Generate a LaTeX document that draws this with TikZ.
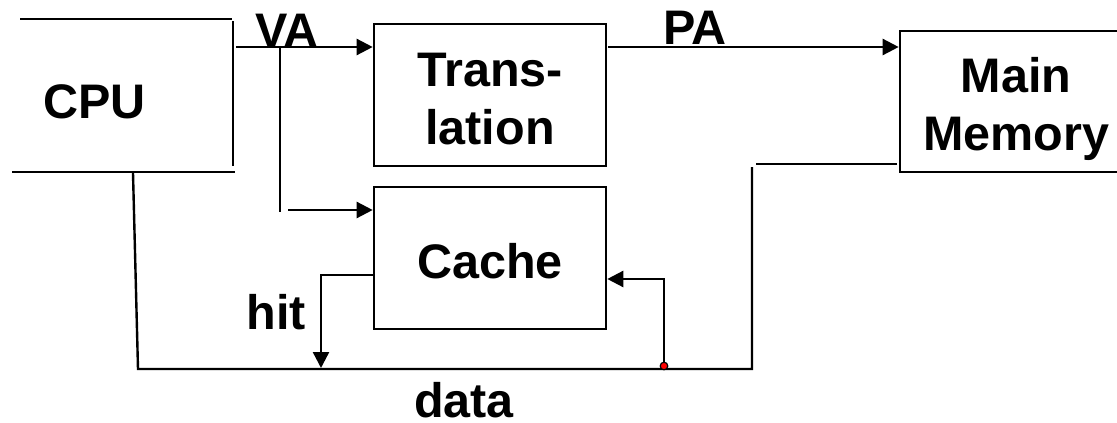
\documentclass[tikz,border=0pt]{standalone}
\usepackage{fontspec}
\setmainfont{Liberation Sans}
\usetikzlibrary{arrows.meta}
\begin{document}
\begin{tikzpicture}[x=1pt,y=-1pt,
  wire/.style={line width=2.4pt,line cap=butt},
  arr/.style={wire,-{Triangle[length=16pt,width=16pt]}},
  boxnode/.style={draw,line width=2.6pt,inner sep=0pt},
  lbl/.style={inner sep=0pt,font=\fontsize{48.5}{58}\selectfont\bfseries,align=center}]
\useasboundingbox (0,0) rectangle (1117,423);
\clip (0,0) rectangle (1117,423);
% boxes
\node[boxnode,minimum width=232pt,minimum height=142pt] (tr) at (490,95) {};
\node[boxnode,minimum width=232pt,minimum height=142pt] (ca) at (490,258) {};
\node[boxnode,minimum width=230pt,minimum height=141pt] (mm) at (1015,101.5) {};
% labels
\node[lbl,anchor=base] (cpu) at (94.5,118) {CPU};
\node[lbl] (trl) at (490,98.7) {Trans-\\lation};
\node[lbl] (mml) at (1016,108.8) {Main\\Memory};
\node[lbl,anchor=base] (cal) at (490,278) {Cache};
\node[lbl,anchor=base] (va) at (287,47) {VA};
\node[lbl,anchor=base] (pa) at (695,44) {PA};
\node[lbl,anchor=base] (hit) at (276,329) {hit};
\node[lbl,anchor=base] (data) at (464,417.5) {data};
% CPU open box
\coordinate (cpuTL) at (20,19);
\coordinate (cpuTR) at (232,19);
\coordinate (cpuRT) at (233,21);
\coordinate (cpuRB) at (233,166);
\coordinate (cpuBL) at (12,172);
\coordinate (cpuBR) at (235,172);
\draw[wire] (cpuTL) -- (cpuTR);
\draw[wire] (cpuRT) -- (cpuRB);
\draw[wire] (cpuBL) -- (cpuBR);
% VA
\coordinate (vaS) at (236,47);
\draw[arr] (vaS) -- (vaS -| tr.west);
\coordinate (brT) at (280,47);
\coordinate (brB) at (280,212);
\draw[wire] (brT) -- (brB);
\coordinate (caIn) at (288,210);
\draw[arr] (caIn) -- (caIn -| ca.west);
% PA
\coordinate (paS) at (608,47);
\draw[arr] (paS) -- (paS -| mm.west);
% memory out / data bus
\coordinate (mmO) at (897,164);
\coordinate (mmO2) at (756,164);
\draw[wire] (mmO) -- (mmO2);
\coordinate (busR) at (752,167);
\coordinate (busC) at (752,369);
\coordinate (busL) at (138,369);
\coordinate (cpuD) at (133,173);
\draw[wire,line join=miter] (busR) -- (busC) -- (busL) -- (cpuD);
% hit
\coordinate (hitA) at (321,275);
\coordinate (hitB) at (321,368);
\draw[arr] (ca.west |- hitA) -- (hitA) -- (hitB);
% refill into cache
\coordinate (dot) at (664,366);
\coordinate (rfA) at (664,279);
\draw[arr] (dot) -- (rfA) -- (rfA -| ca.east);
\fill[red,draw=black,line width=1.2pt] (dot) circle (3.8pt);
\end{tikzpicture}
\end{document}
